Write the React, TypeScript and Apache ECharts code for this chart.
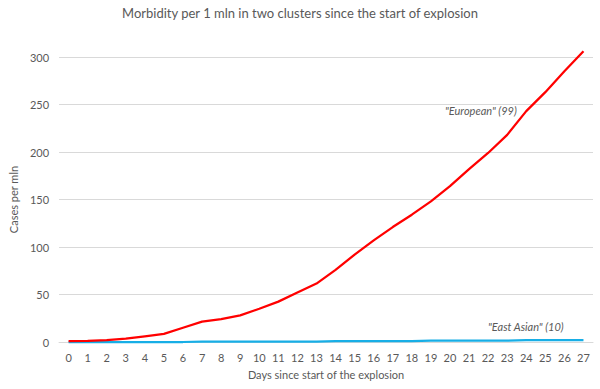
import React, { useEffect, useRef } from "react";
import * as echarts from "echarts";

const days: string[] = Array.from({ length: 28 }, (_, i) => String(i));
const european: number[] = [1, 1.2, 2, 3.5, 6, 8.5, 15, 21.5, 24, 28, 35, 42.5, 52, 61.5, 76, 92, 107, 121, 134, 148, 164, 182, 199, 218, 243, 263, 285, 306];
const eastAsian: number[] = [0, 0, 0, 0, 0, 0, 0, 0.5, 0.5, 0.5, 0.5, 0.5, 0.5, 0.5, 1, 1, 1, 1, 1, 1.5, 1.5, 1.5, 1.5, 1.5, 2, 2, 2, 2];
const titleText = "Morbidity per 1 mln in two clusters since the start of explosion";
const europeanLabel = "\"European\" (99)";
const eastAsianLabel = "\"East Asian\" (10)";

const FONT = "Lato";
const GREY = "#595959";

export default function App() {
  const ref = useRef<HTMLDivElement>(null);
  useEffect(() => {
    if (!ref.current) return;
    const chart = echarts.init(ref.current, undefined, { renderer: "svg" });
    chart.setOption({
      animation: false,
      backgroundColor: "#ffffff",
      textStyle: { fontFamily: FONT },
      title: {
        text: titleText,
        left: "center",
        top: 1,
        textStyle: { fontFamily: FONT, fontSize: 13, fontWeight: "normal", color: GREY },
      },
      grid: { left: 54, right: 7, top: 57, bottom: 47 },
      xAxis: {
        type: "category",
        data: days,
        boundaryGap: true,
        name: "Days since start of the explosion",
        nameLocation: "middle",
        nameGap: 27,
        nameTextStyle: { fontFamily: FONT, fontSize: 11, color: GREY },
        axisLine: { show: true, lineStyle: { color: "#d9d9d9" } },
        axisTick: { show: false },
        axisLabel: { fontFamily: FONT, fontSize: 11, color: GREY, margin: 10, interval: 0 },
      },
      yAxis: {
        type: "value",
        min: 0,
        max: 300,
        interval: 50,
        name: "Cases per mln",
        nameLocation: "middle",
        nameGap: 35,
        nameTextStyle: { fontFamily: FONT, fontSize: 11, color: GREY },
        axisLine: { show: false },
        axisTick: { show: false },
        axisLabel: { fontFamily: FONT, fontSize: 11, color: GREY, margin: 10 },
        splitLine: { lineStyle: { color: "#d9d9d9", width: 1 } },
      },
      series: [
        {
          name: "European",
          type: "line",
          data: european,
          symbol: "none",
          clip: false,
          lineStyle: { color: "#ff0000", width: 2.25 },
          z: 3,
        },
        {
          name: "East Asian",
          type: "line",
          data: eastAsian,
          symbol: "none",
          clip: false,
          lineStyle: { color: "#17aee6", width: 2.25 },
          z: 2,
        },
      ],
      graphic: [
        {
          type: "text",
          left: 445,
          top: 105,
          style: { text: europeanLabel, fill: GREY, font: `italic 11px ${FONT}` },
        },
        {
          type: "text",
          left: 488,
          top: 321,
          style: { text: eastAsianLabel, fill: GREY, font: `italic 11px ${FONT}` },
        },
      ],
    });
    return () => chart.dispose();
  }, []);
  return <div ref={ref} style={{ position: "fixed", left: 0, top: 0, width: 600, height: 389 }} />;
}
